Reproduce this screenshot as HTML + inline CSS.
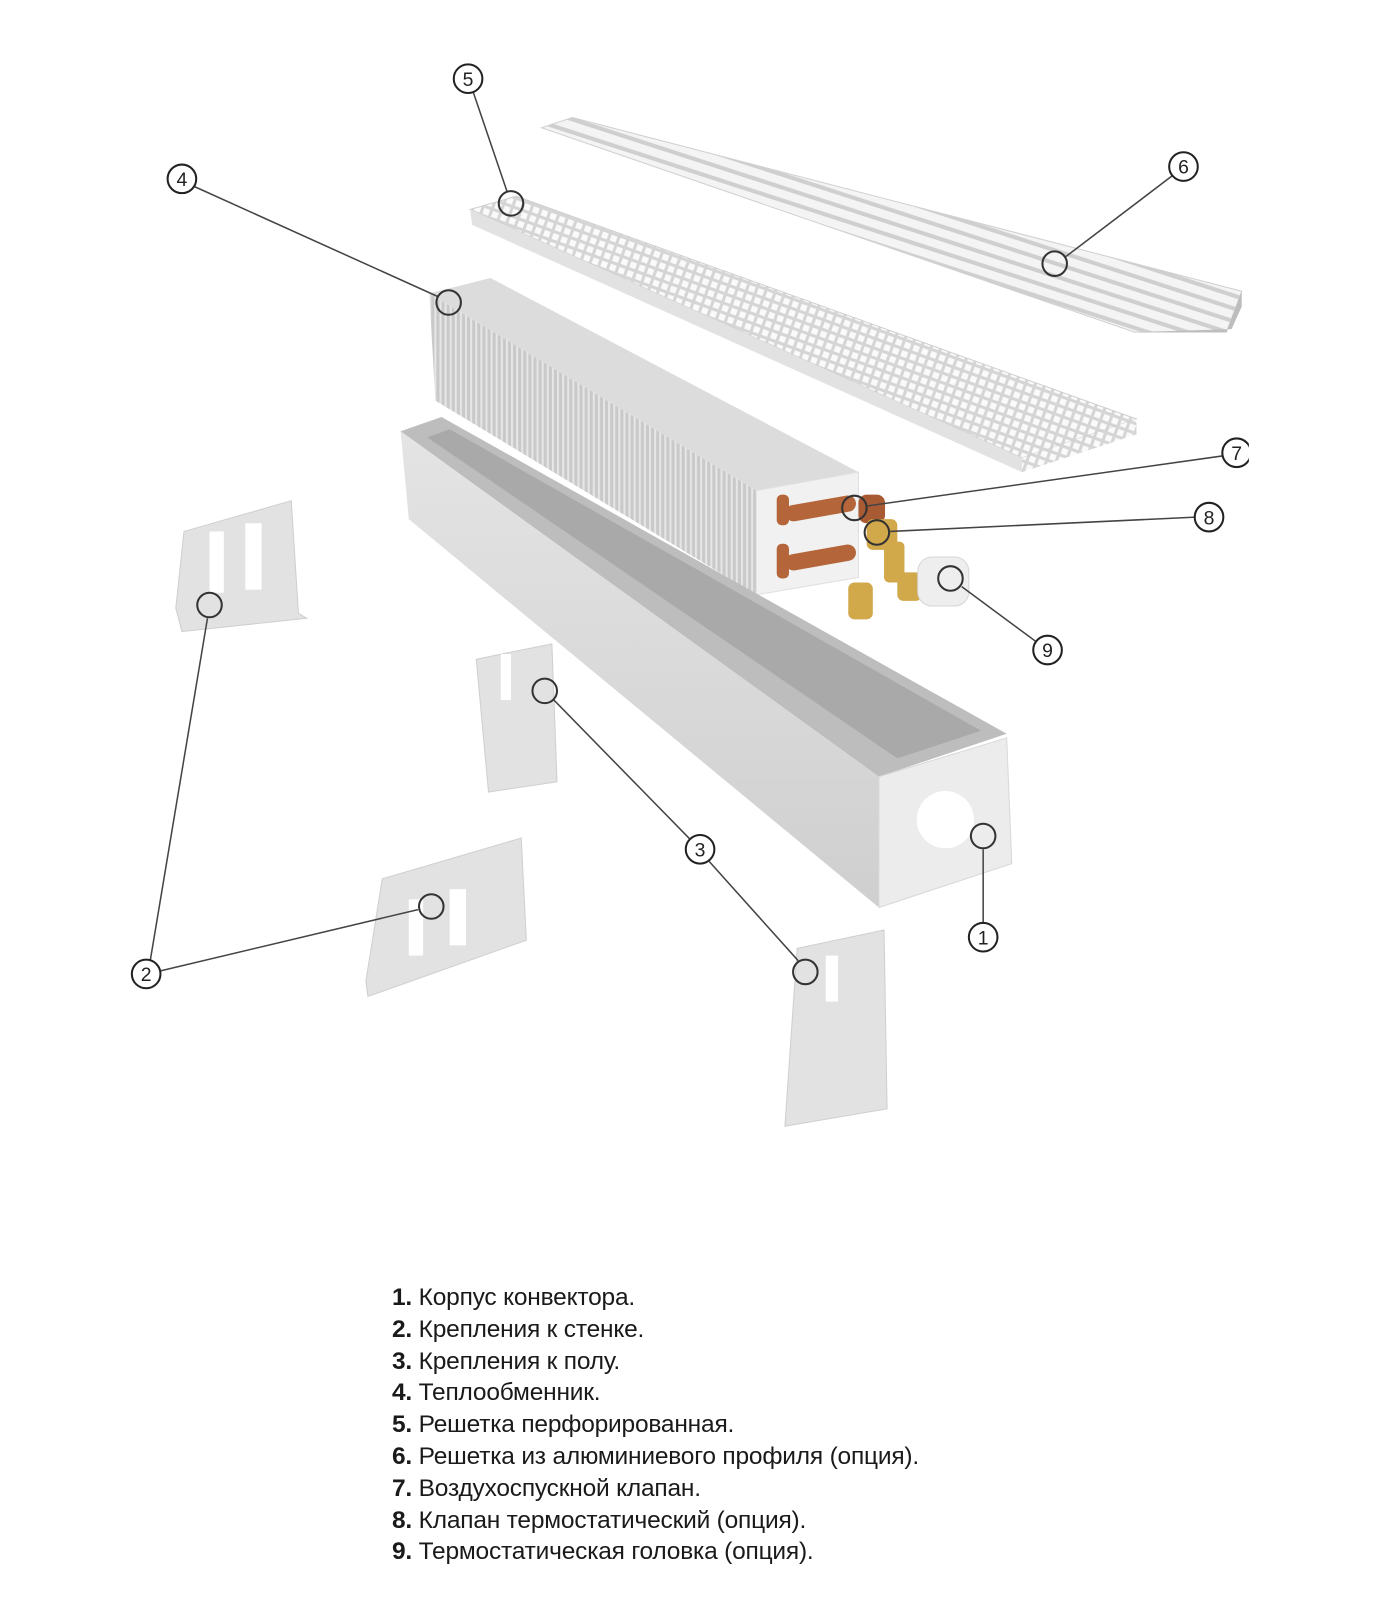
<!DOCTYPE html>
<html><head><meta charset="utf-8"><style>
html,body{margin:0;padding:0;background:#fff;}
body{width:1400px;height:1600px;position:relative;overflow:hidden;font-family:"Liberation Sans",sans-serif;}
svg{position:absolute;left:0;top:0;}
.leg{position:absolute;left:392px;top:1282px;font-size:24.5px;line-height:31.8px;color:#1a1a1a;letter-spacing:-0.2px;}
.leg b{font-weight:bold;}
</style></head><body>
<svg width="1400" height="1600" viewBox="0 0 1400 1600">
<defs>
<pattern id="fins" width="5" height="10" patternUnits="userSpaceOnUse">
<rect width="5" height="10" fill="#c9c9c9"/><rect width="2" height="10" fill="#e6e6e6"/></pattern>
<pattern id="grid" width="9" height="9" patternUnits="userSpaceOnUse" patternTransform="rotate(20)">
<rect width="9" height="9" fill="#d5d5d5"/><rect x="2" y="2" width="6" height="6" fill="#fafafa"/></pattern>
<pattern id="slats" width="12" height="12" patternUnits="userSpaceOnUse" patternTransform="rotate(18)">
<rect width="12" height="12" fill="#f4f4f4"/><rect y="8" width="12" height="4" fill="#cfcfcf"/></pattern>
<linearGradient id="gside" x1="0" y1="0" x2="0" y2="1"><stop offset="0" stop-color="#e4e4e4"/><stop offset="1" stop-color="#cfcfcf"/></linearGradient>
</defs>
<g transform="scale(1.022)">
<!-- aluminium grille 6 -->
<polygon points="530,125 560,115 1215,285 1200,325 1110,325" fill="url(#slats)" stroke="#d0d0d0"/>
<polygon points="1110,325 1200,325 1215,285 1215,300 1205,322" fill="#bdbdbd"/>

<!-- perforated grille 5 -->
<polygon points="460,205 505,192 1112,410 1000,448" fill="url(#grid)" stroke="#cfcfcf"/>
<polygon points="460,205 1000,448 1000,462 462,220" fill="#e2e2e2"/>
<polygon points="1000,448 1112,410 1112,425 1000,462" fill="url(#grid)"/>

<!-- heat exchanger 4 -->
<polygon points="420,287 480,272 840,462 740,480" fill="#dcdcdc"/>
<polygon points="420,287 740,480 740,582 426,392" fill="url(#fins)"/>
<polygon points="740,480 840,462 840,565 740,582" fill="#f1f1f1" stroke="#e0e0e0"/>
<g fill="#b5653a">
<rect x="768" y="490" width="70" height="16" rx="8" transform="rotate(-10 800 498)"/>
<rect x="768" y="538" width="70" height="16" rx="8" transform="rotate(-10 800 546)"/>
<rect x="760" y="484" width="12" height="30" rx="5"/>
<rect x="760" y="532" width="12" height="34" rx="5"/>
<rect x="840" y="484" width="26" height="28" rx="8" fill="#a85a33"/>
</g>
<g fill="#d1a84a">
<rect x="848" y="508" width="30" height="30" rx="6"/>
<rect x="830" y="570" width="24" height="36" rx="6"/>
<rect x="878" y="560" width="24" height="28" rx="6"/>
<rect x="865" y="530" width="20" height="40" rx="5"/>
</g>
<rect x="898" y="545" width="50" height="48" rx="14" fill="#eeeeee" stroke="#d6d6d6"/>

<!-- housing 1 -->
<polygon points="392,422 432,408 985,718 860,760" fill="#bdbdbd"/>
<polygon points="418,428 440,420 960,715 878,742" fill="#a9a9a9"/>
<polygon points="392,422 860,760 860,888 400,508" fill="url(#gside)"/>
<polygon points="860,760 985,722 990,845 860,888" fill="#ececec" stroke="#d8d8d8"/>
<circle cx="925" cy="802" r="28" fill="#fff"/>

<!-- brackets -->
<g fill="#e2e2e2" stroke="#cfcfcf">
<polygon points="180,520 285,490 292,600 300,605 178,618 172,595"/>
<polygon points="466,645 540,630 545,765 478,775"/>
<polygon points="374,860 510,820 515,920 360,975 358,960"/>
<polygon points="780,928 865,910 868,1085 768,1102"/>
</g>
<g fill="#fff">
<rect x="205" y="520" width="14" height="60"/><rect x="240" y="512" width="16" height="65"/>
<rect x="490" y="640" width="10" height="45"/><rect x="400" y="880" width="14" height="55"/>
<rect x="440" y="870" width="16" height="55"/><rect x="808" y="935" width="12" height="45"/>
</g>

<!-- leader lines -->
<g stroke="#444" stroke-width="1.5" fill="none">
<line x1="962" y1="831" x2="962" y2="904"/>
<line x1="147" y1="940" x2="203" y2="605"/>
<line x1="157" y1="950" x2="409" y2="890"/>
<line x1="676" y1="822" x2="542" y2="685"/>
<line x1="694" y1="843" x2="781" y2="940"/>
<line x1="189" y1="182" x2="428" y2="290"/>
<line x1="463" y1="90" x2="496" y2="187"/>
<line x1="1147" y1="172" x2="1043" y2="251"/>
<line x1="1197" y1="446" x2="849" y2="495"/>
<line x1="1170" y1="506" x2="871" y2="520"/>
<line x1="1014" y1="628" x2="941" y2="574"/>
</g>
<g stroke="#333" stroke-width="2" fill="none">
<circle cx="962" cy="818" r="12"/><circle cx="205" cy="592" r="12"/><circle cx="422" cy="887" r="12"/>
<circle cx="533" cy="676" r="12"/><circle cx="788" cy="951" r="12"/><circle cx="439" cy="296" r="12"/>
<circle cx="500" cy="199" r="12"/><circle cx="1032" cy="258" r="12"/><circle cx="836" cy="497" r="12"/>
<circle cx="858" cy="521" r="12"/><circle cx="930" cy="566" r="12"/>
</g>
<g stroke="#222" stroke-width="2" fill="#fff">
<circle cx="962" cy="917" r="14"/><circle cx="143" cy="953" r="14"/><circle cx="685" cy="831" r="14"/>
<circle cx="178" cy="175" r="14"/><circle cx="458" cy="77" r="14"/><circle cx="1158" cy="163" r="14"/>
<circle cx="1210" cy="443" r="14"/><circle cx="1183" cy="506" r="14"/><circle cx="1025" cy="636" r="14"/>
</g>
<rect x="1222" y="425" width="30" height="40" fill="#fff"/>
<g font-family="Liberation Sans, sans-serif" font-size="19" fill="#222" text-anchor="middle">
<text x="962" y="924">1</text><text x="143" y="960">2</text><text x="685" y="838">3</text>
<text x="178" y="182">4</text><text x="458" y="84">5</text><text x="1158" y="170">6</text>
<text x="1210" y="450">7</text><text x="1183" y="513">8</text><text x="1025" y="643">9</text>
</g>
</g>
</svg>
<div class="leg">
<div><b>1.</b> Корпус конвектора.</div>
<div><b>2.</b> Крепления к стенке.</div>
<div><b>3.</b> Крепления к полу.</div>
<div><b>4.</b> Теплообменник.</div>
<div><b>5.</b> Решетка перфорированная.</div>
<div><b>6.</b> Решетка из алюминиевого профиля (опция).</div>
<div><b>7.</b> Воздухоспускной клапан.</div>
<div><b>8.</b> Клапан термостатический (опция).</div>
<div><b>9.</b> Термостатическая головка (опция).</div>
</div>
</body></html>
